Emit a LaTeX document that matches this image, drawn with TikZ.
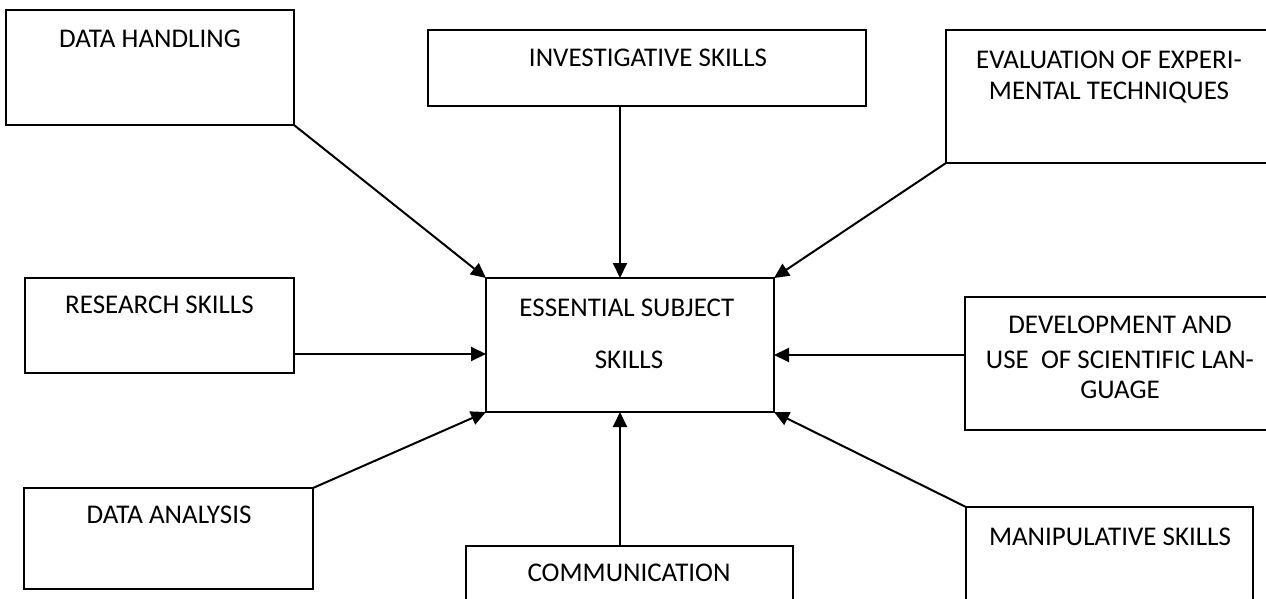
\documentclass[tikz,border=0pt]{standalone}
\usepackage{fontspec}
\setmainfont{Carlito}
\usetikzlibrary{arrows.meta}
\begin{document}
\begin{tikzpicture}[x=1pt,y=-1pt,
  box/.style={draw=black,line width=2pt,rectangle,inner sep=0pt,outer sep=0pt,fill=none},
  lbl/.style={anchor=base,inner sep=0pt,font=\fontsize{27}{32}\selectfont},
  conn/.style={line width=2pt,-{Triangle[length=15pt,width=14pt]}}]
\useasboundingbox (0,0) rectangle (1266,599);
\clip (0,0) rectangle (1266,599);
\fill[white] (0,0) rectangle (1266,599);
% boxes
\node[box,minimum width=288pt,minimum height=115pt] (dh) at (150,67.5) {};
\node[box,minimum width=438pt,minimum height=76pt] (inv) at (647,68) {};
\node[box,minimum width=329pt,minimum height=133pt] (eva) at (1110.5,96.5) {};
\node[box,minimum width=269pt,minimum height=95pt] (res) at (159.5,325.5) {};
\node[box,minimum width=288pt,minimum height=134pt] (ess) at (630,345) {};
\node[box,minimum width=310pt,minimum height=133pt] (dev) at (1120,363.5) {};
\node[box,minimum width=289pt,minimum height=101pt] (da) at (168.5,538.5) {};
\node[box,minimum width=327pt,minimum height=74pt] (com) at (629.5,583) {};
\node[box,minimum width=287pt,minimum height=113pt] (man) at (1109.5,563.5) {};
% texts
\node[lbl] (tdh) at (150,47.5) {DATA HANDLING};
\node[lbl] (tinv) at (648,66.5) {INVESTIGATIVE SKILLS};
\node[lbl] (teva1) at (1109,68.5) {EVALUATION OF EXPERI-};
\node[lbl] (teva2) at (1109,99.5) {MENTAL TECHNIQUES};
\node[lbl] (tres) at (159.5,313.5) {RESEARCH SKILLS};
\node[lbl] (tess1) at (630,316.5) {ESSENTIAL SUBJECT\ \ };
\node[lbl] (tess2) at (629,368.5) {SKILLS};
\node[lbl] (tdev1) at (1120,333.5) {DEVELOPMENT AND};
\node[lbl] (tdev2) at (1120,368.5) {USE\ \ OF SCIENTIFIC LAN-};
\node[lbl] (tdev3) at (1120,398.5) {GUAGE};
\node[lbl] (tda) at (169,523.5) {DATA ANALYSIS};
\node[lbl] (tcom) at (629,581.5) {COMMUNICATION};
\node[lbl] (tman) at (1110,545.5) {MANIPULATIVE SKILLS};
% connector end points
\coordinate (ia) at (620,278);
\coordinate (ca) at (620,412);
\coordinate (ra) at (486,354);
\coordinate (dva) at (774,355);
% connectors
\draw[conn] (dh.south east) -- (ess.north west);
\draw[conn] (inv.south -| ia) -- (ia);
\draw[conn] (eva.south west) -- (ess.north east);
\draw[conn] (res.east |- ra) -- (ra);
\draw[conn] (dev.west |- dva) -- (dva);
\draw[conn] (da.north east) -- (ess.south west);
\draw[conn] (com.north -| ca) -- (ca);
\draw[conn] (man.north west) -- (ess.south east);
\end{tikzpicture}
\end{document}
